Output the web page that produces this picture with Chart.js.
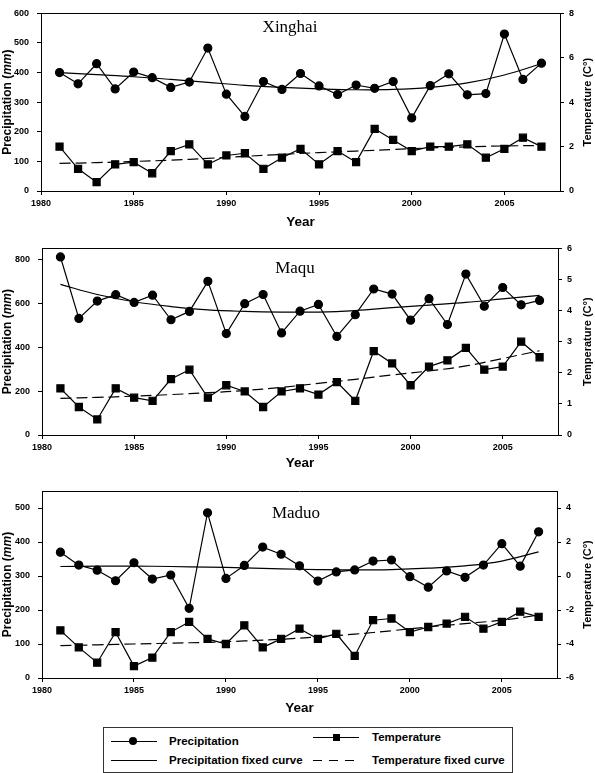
<!DOCTYPE html>
<html lang="en">
<head>
  <meta charset="UTF-8">
  <title>Precipitation and temperature 1981-2007</title>
  <script src="https://cdn.jsdelivr.net/npm/chart.js"></script>
  <style>
    body { margin: 0; background: #fff; font-family: "Liberation Sans", Arial, sans-serif; }
    #page { position: relative; width: 595px; height: 773px; overflow: hidden; }
    #page canvas { position: absolute; left: 0; }
    .lg { position: absolute; background: #000; }
    .lgText { position: absolute; font-size: 11.5px; font-weight: bold; line-height: 14px; white-space: nowrap; }
    #legendBox { position: absolute; left: 103px; top: 727px; width: 408px; height: 44px; border: 1px solid #333; }
  </style>
</head>
<body>
<div id="page">
  <canvas id="c1" width="595" height="235" style="top:0px"></canvas>
  <canvas id="c2" width="595" height="240" style="top:235px"></canvas>
  <canvas id="c3" width="595" height="250" style="top:475px"></canvas>

  <div id="legendBox"></div>
  <div class="lg" style="left:111px;top:740.5px;width:46px;height:1.3px"></div>
  <div class="lg" style="left:129px;top:737px;width:8px;height:8px;border-radius:50%"></div>
  <div class="lgText" style="left:169px;top:734px">Precipitation</div>
  <div class="lg" style="left:111px;top:759.5px;width:46px;height:1.3px"></div>
  <div class="lgText" style="left:169px;top:753px">Precipitation fixed curve</div>
  <div class="lg" style="left:313px;top:736.5px;width:46px;height:1.3px"></div>
  <div class="lg" style="left:332.5px;top:733.5px;width:7px;height:7px"></div>
  <div class="lgText" style="left:372px;top:730px">Temperature</div>
  <div class="lg" style="left:313px;top:759.5px;width:46px;height:1.3px;background:repeating-linear-gradient(to right,#000 0 9px,transparent 9px 16px)"></div>
  <div class="lgText" style="left:372px;top:753px">Temperature fixed curve</div>
</div>

<script>
  // years of observation
  const years = [1981, 1982, 1983, 1984, 1985, 1986, 1987, 1988, 1989, 1990,
                 1991, 1992, 1993, 1994, 1995, 1996, 1997, 1998, 1999, 2000,
                 2001, 2002, 2003, 2004, 2005, 2006, 2007];
  const fitYears = [1981, 1983, 1985, 1987, 1989, 1991, 1993, 1995, 1997, 1999, 2001, 2003, 2005, 2007];

  // Xinghai
  const xinghaiPrecip = [400, 362, 430, 345, 402, 383, 350, 368, 483, 327,
                         252, 370, 343, 397, 355, 326, 358, 347, 370, 247,
                         356, 396, 325, 329, 530, 377, 432];
  const xinghaiTemp = [2.0, 1.0, 0.4, 1.2, 1.3, 0.8, 1.8, 2.1, 1.2, 1.6,
                       1.7, 1.0, 1.5, 1.9, 1.2, 1.8, 1.3, 2.8, 2.3, 1.8,
                       2.0, 2.0, 2.1, 1.5, 1.9, 2.4, 2.0];
  const xinghaiPrecipFit = [400, 393, 386, 377, 367, 357, 350, 345, 342, 343, 350, 365, 392, 430];
  const xinghaiTempFit = [1.24, 1.28, 1.33, 1.39, 1.47, 1.56, 1.65, 1.73, 1.80, 1.87, 1.94, 1.99, 2.03, 2.05];

  // Maqu
  const maquPrecip = [811, 531, 610, 639, 604, 637, 525, 563, 700, 462,
                      598, 640, 465, 564, 595, 449, 548, 665, 642, 523,
                      621, 503, 733, 587, 672, 593, 613];
  const maquTemp = [1.5, 0.9, 0.5, 1.5, 1.2, 1.1, 1.8, 2.1, 1.2, 1.6,
                    1.4, 0.9, 1.4, 1.5, 1.3, 1.7, 1.1, 2.7, 2.3, 1.6,
                    2.2, 2.4, 2.8, 2.1, 2.2, 3.0, 2.5];
  const maquPrecipFit = [686, 640, 607, 585, 570, 563, 560, 560, 567, 580, 592, 604, 620, 636];
  const maquTempFit = [1.18, 1.21, 1.25, 1.30, 1.36, 1.43, 1.53, 1.66, 1.79, 1.93, 2.06, 2.22, 2.46, 2.71];

  // Maduo
  const maduoPrecip = [370, 332, 317, 286, 339, 291, 303, 205, 486, 293,
                       331, 385, 364, 330, 285, 312, 318, 344, 347, 298,
                       267, 315, 296, 332, 395, 329, 430];
  const maduoTemp = [-3.2, -4.2, -5.1, -3.3, -5.3, -4.8, -3.3, -2.7, -3.7, -4.0,
                     -2.9, -4.2, -3.7, -3.1, -3.7, -3.4, -4.7, -2.6, -2.5, -3.3,
                     -3.0, -2.8, -2.4, -3.1, -2.7, -2.1, -2.4];
  const maduoPrecipFit = [328, 329, 329, 328, 326, 324, 321, 319, 318, 319, 323, 330, 344, 371];
  const maduoTempFit = [-4.1, -4.05, -4.0, -3.95, -3.9, -3.82, -3.72, -3.58, -3.42, -3.22, -3.0, -2.8, -2.6, -2.3];

  const FONT = '"Liberation Sans", Arial, sans-serif';
  Chart.defaults.font.family = FONT;
  Chart.defaults.color = '#000';

  function pts(xs, ys) {
    return xs.map((x, i) => ({ x: x, y: ys[i] }));
  }

  // frame top line, station name and axis titles
  const decoPlugin = {
    id: 'deco',
    afterDraw(chart, args, o) {
      const ctx = chart.ctx;
      const a = chart.chartArea;
      ctx.save();
      ctx.strokeStyle = '#000';
      ctx.lineWidth = 1;
      ctx.beginPath();
      ctx.moveTo(a.left, Math.round(a.top) + 0.5);
      ctx.lineTo(a.right, Math.round(a.top) + 0.5);
      ctx.stroke();

      ctx.fillStyle = '#000';
      ctx.textBaseline = 'middle';
      ctx.textAlign = 'center';
      ctx.font = '17px "Liberation Serif", serif';
      ctx.fillText(o.name, o.nameX, o.nameY);

      ctx.font = 'bold 13.5px ' + FONT;
      ctx.fillText('Year', (a.left + a.right) / 2, o.yearY);

      // left title with italic unit
      const mid = (a.top + a.bottom) / 2;
      const parts = [['Precipitation (', 'bold 12px ' + FONT], ['mm', 'italic bold 12px ' + FONT], [')', 'bold 12px ' + FONT]];
      let total = 0;
      parts.forEach(p => { ctx.font = p[1]; total += ctx.measureText(p[0]).width; });
      ctx.save();
      ctx.translate(8, mid);
      ctx.rotate(-Math.PI / 2);
      ctx.textAlign = 'left';
      let x = -total / 2;
      parts.forEach(p => { ctx.font = p[1]; ctx.fillText(p[0], x, 0); x += ctx.measureText(p[0]).width; });
      ctx.restore();

      ctx.save();
      ctx.translate(588, mid);
      ctx.rotate(-Math.PI / 2);
      ctx.font = 'bold 11px ' + FONT;
      ctx.textAlign = 'center';
      ctx.fillText('Temperature (C°)', 0, 0);
      ctx.restore();
      ctx.restore();
    }
  };

  const panels = [
    { id: 'c1', top: 0, height: 235, left: 41, right: 560, plotTop: 5, plotBottom: 191,
      name: 'Xinghai', nameX: 290, nameY: 28, yearY: 222,
      precip: xinghaiPrecip, temp: xinghaiTemp, precipFit: xinghaiPrecipFit, tempFit: xinghaiTempFit,
      yMin: 0, yMax: 600, yStep: 100, tMin: 0, tMax: 8, tStep: 2 },
    { id: 'c2', top: 235, height: 240, left: 42, right: 558, plotTop: 248, plotBottom: 435,
      name: 'Maqu', nameX: 295, nameY: 269, yearY: 463,
      precip: maquPrecip, temp: maquTemp, precipFit: maquPrecipFit, tempFit: maquTempFit,
      yMin: 0, yMax: 850, yStep: 200, tMin: 0, tMax: 6, tStep: 1 },
    { id: 'c3', top: 475, height: 250, left: 42, right: 557, plotTop: 491, plotBottom: 678,
      name: 'Maduo', nameX: 296, nameY: 514, yearY: 708,
      precip: maduoPrecip, temp: maduoTemp, precipFit: maduoPrecipFit, tempFit: maduoTempFit,
      yMin: 0, yMax: 550, yStep: 100, tMin: -6, tMax: 5, tStep: 2 }
  ];

  const tickFont = { size: 9, weight: 'bold' };
  const axisGrid = { drawOnChartArea: false, drawTicks: true, tickLength: 4, color: '#000', tickColor: '#000' };

  panels.forEach(p => {
    new Chart(document.getElementById(p.id), {
      type: 'line',
      data: {
        datasets: [
          { label: 'Precipitation fixed curve', data: pts(fitYears, p.precipFit), yAxisID: 'y',
            borderColor: '#000', borderWidth: 1.2, pointRadius: 0, tension: 0.4, fill: false },
          { label: 'Temperature fixed curve', data: pts(fitYears, p.tempFit), yAxisID: 'y1',
            borderColor: '#000', borderWidth: 1.2, borderDash: [11, 5], pointRadius: 0, tension: 0.4, fill: false },
          { label: 'Precipitation', data: pts(years, p.precip), yAxisID: 'y',
            borderColor: '#000', borderWidth: 1.2, pointStyle: 'circle', pointRadius: 4,
            pointBackgroundColor: '#000', pointBorderColor: '#000', tension: 0, fill: false },
          { label: 'Temperature', data: pts(years, p.temp), yAxisID: 'y1',
            borderColor: '#000', borderWidth: 1.2, pointStyle: 'rect', pointRadius: 5,
            pointBackgroundColor: '#000', pointBorderColor: '#000', tension: 0, fill: false }
        ]
      },
      options: {
        responsive: false,
        animation: false,
        devicePixelRatio: 1,
        layout: { autoPadding: false, padding: { top: p.plotTop - p.top, left: 0, right: 0, bottom: 0 } },
        plugins: {
          legend: { display: false },
          tooltip: { enabled: false },
          deco: { name: p.name, nameX: p.nameX, nameY: p.nameY - p.top, yearY: p.yearY - p.top }
        },
        scales: {
          x: {
            type: 'linear', min: 1980, max: 2008,
            border: { color: '#000', width: 1 },
            grid: axisGrid,
            ticks: { stepSize: 5, includeBounds: false, padding: 3, font: tickFont, maxRotation: 0,
                     callback: v => String(v) },
            afterFit: s => { s.height = p.height - (p.plotBottom - p.top); }
          },
          y: {
            position: 'left', min: p.yMin, max: p.yMax,
            border: { color: '#000', width: 1 },
            grid: axisGrid,
            ticks: { stepSize: p.yStep, includeBounds: false, padding: 8, font: tickFont },
            afterFit: s => { s.width = p.left; }
          },
          y1: {
            position: 'right', min: p.tMin, max: p.tMax,
            border: { color: '#000', width: 1 },
            grid: axisGrid,
            ticks: { stepSize: p.tStep, includeBounds: false, padding: 5, font: tickFont },
            afterFit: s => { s.width = 595 - p.right; }
          }
        }
      },
      plugins: [decoPlugin]
    });
  });
</script>
</body>
</html>
